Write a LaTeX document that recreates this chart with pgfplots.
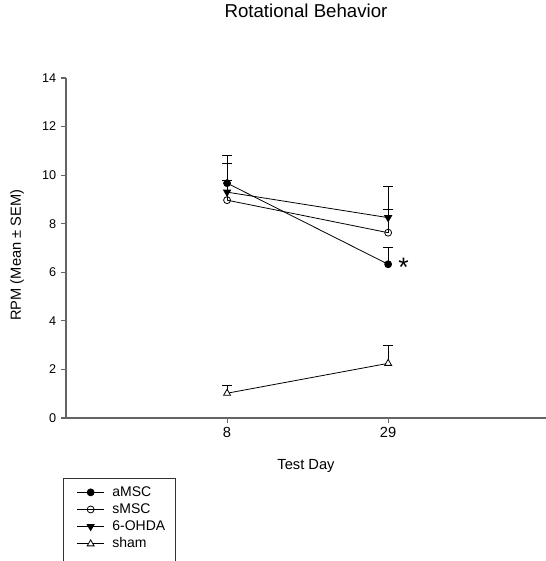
\documentclass[border=0pt]{standalone}
\usepackage{fontspec}
\setmainfont{Liberation Sans}
\usepackage{pgfplots}
\pgfplotsset{compat=1.18}
\definecolor{axgray}{RGB}{100,100,100}
\begin{document}
\begin{tikzpicture}[x=1pt,y=1pt]
\useasboundingbox (0,0) rectangle (409.5,420.75);
\begin{axis}[
  at={(49.5pt,107.25pt)}, anchor=south west,
  scale only axis, width=360pt, height=255pt,
  xmin=0, xmax=2.98, ymin=0, ymax=14,
  axis x line=bottom, axis y line=left,
  axis line style={-, axgray, line width=0.8pt},
  tick style={axgray, line width=0.8pt},
  tick align=outside, major tick length=3.75pt,
  xtick={1,2}, xticklabels={8,29},
  ytick={0,2,...,14},
  /pgf/number format/assume math mode=true,
  x tick label style={font=\fontsize{11}{13}\selectfont},
  y tick label style={font=\fontsize{9.5}{11}\selectfont},
  xlabel={Test Day},
  ylabel={RPM (Mean ± SEM)},
  xlabel style={font=\fontsize{11}{13}\selectfont, at={(0.5,-0.141)}, anchor=center},
  ylabel style={font=\fontsize{11}{13}\selectfont, at={(-0.102,0.479)}, anchor=center, rotate=0},
  title={Rotational Behavior},
  title style={font=\fontsize{14}{16}\selectfont, at={(0.5,1.1735)}, anchor=center},
  legend style={at={(-0.006,-0.1765)}, anchor=north west, draw=black!80, line width=0.7pt,
     font=\fontsize{10.5}{12.3}\selectfont, row sep=0pt, inner xsep=6pt, inner ysep=4pt,
     cells={anchor=west}},
  legend cell align=left,
  legend image code/.code={\draw[mark repeat=2,mark phase=2,line width=0.6pt] plot coordinates {(4pt,0pt)(14pt,0pt)(24pt,0pt)};\path (0pt,0pt) (28pt,0pt);},
  error bars/y dir=plus, error bars/y explicit,
  error bars/error bar style={black, line width=0.6pt},
  error bars/error mark options={rotate=90, mark size=3.75pt, black, line width=0.6pt},
  clip=false,
]
\addplot[black, line width=0.6pt, mark=*, mark size=2.6pt, mark options={fill=black, solid}] coordinates {(1,9.67) +- (0,1.13) (2,6.33) +- (0,0.71)};
\addlegendentry{aMSC}
\addplot[black, line width=0.6pt, mark=o, mark size=2.6pt, mark options={fill=white, solid}] coordinates {(1,8.97) +- (0,0.80) (2,7.63) +- (0,0.97)};
\addlegendentry{sMSC}
\addplot[black, line width=0.6pt, mark=triangle*, mark size=3pt, mark options={fill=black, rotate=180, solid}] coordinates {(1,9.30) +- (0,1.20) (2,8.25) +- (0,1.27)};
\addlegendentry{6-OHDA}
\addplot[black, line width=0.6pt, mark=triangle*, mark size=3pt, mark options={fill=white, solid}] coordinates {(1,1.02) +- (0,0.34) (2,2.25) +- (0,0.73)};
\addlegendentry{sham}
\addlegendimage{empty legend}
\addlegendentry{}
\node[font=\fontsize{20}{20}\selectfont, anchor=center] at (axis cs:2,6.33) [xshift=11.5pt, yshift=-2pt] {*};
\end{axis}
\end{tikzpicture}
\end{document}
